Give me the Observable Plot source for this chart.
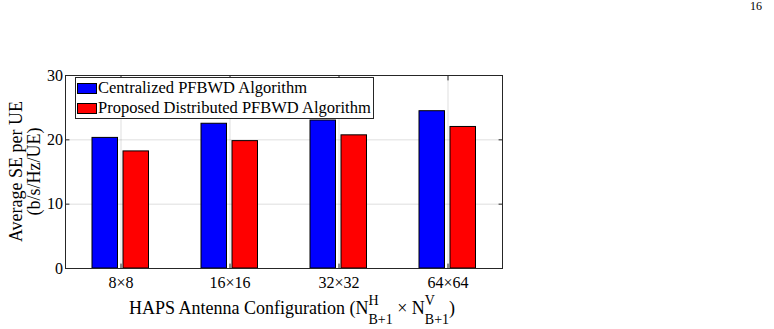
<!DOCTYPE html>
<html>
<head>
<meta charset="utf-8">
<script src="https://cdn.jsdelivr.net/npm/d3@7"></script>
<script src="https://cdn.jsdelivr.net/npm/@observablehq/plot@0.6"></script>
<style>
  body { margin: 0; background: #fff; }
  #chart { position: relative; width: 774px; height: 329px; font-family: "Liberation Serif", "Times New Roman", serif; color: #000; }
  .legend { position: absolute; left: 75px; top: 77px; width: 297px; height: 40px; border: 1px solid #262626; background: #fff; font-family: "Liberation Serif", serif; }
  .legend .row { display: flex; align-items: center; height: 20px; font-size: 16.5px; white-space: nowrap; }
  .legend .sw { width: 18px; height: 9px; border: 1px solid #000; margin: 0 1px 0 1px; }
</style>
</head>
<body>
<div id="chart"></div>
<script>
// Antenna configurations on the x axis
const configs = ["8×8", "16×16", "32×32", "64×64"];
// Average spectral efficiency per UE (b/s/Hz/UE)
const centralized = [20.3, 22.5, 23.0, 24.45];
const distributed = [18.2, 19.8, 20.7, 22.0];
const seriesNames = ["Centralized PFBWD Algorithm", "Proposed Distributed PFBWD Algorithm"];
const seriesColors = ["#0000ff", "#ff0000"];
const yTicks = [0, 10, 20, 30];

const rowsC = configs.map((c, i) => ({config: c, value: centralized[i]}));
const rowsD = configs.map((c, i) => ({config: c, value: distributed[i]}));

const axisColor = "#262626";
const serif = "Liberation Serif, Times New Roman, serif";
const tickLen = -4.4; // MATLAB-style inward ticks

const chart = Plot.plot({
  width: 774,
  height: 329,
  marginLeft: 65,
  marginRight: 272,
  marginTop: 75,
  marginBottom: 61,
  style: {fontFamily: serif, fontSize: "16px", color: axisColor, background: "white", overflow: "visible"},
  x: {domain: configs, padding: 0, label: null},
  y: {domain: [0, 30], label: null},
  marks: [
    Plot.gridX({stroke: axisColor, strokeOpacity: 0.15}),
    Plot.gridY(yTicks, {stroke: axisColor, strokeOpacity: 0.15}),
    Plot.barY(rowsC, {x: "config", y: "value", fill: seriesColors[0], stroke: "#000", strokeWidth: 1, insetLeft: 26, insetRight: 57.5}),
    Plot.barY(rowsD, {x: "config", y: "value", fill: seriesColors[1], stroke: "#000", strokeWidth: 1, insetLeft: 57, insetRight: 26.5}),
    Plot.frame({stroke: axisColor}),
    Plot.axisY(yTicks, {anchor: "left", tickSize: tickLen, tickPadding: 7, label: null, fill: "#000", fontFamily: serif, fontSize: 16}),
    Plot.axisY(yTicks, {anchor: "right", tickSize: tickLen, tickFormat: () => "", label: null}),
    Plot.axisX({anchor: "bottom", tickSize: tickLen, tickPadding: 13, label: null, fill: "#000", fontFamily: serif, fontSize: 16}),
    Plot.axisX({anchor: "top", tickSize: tickLen, tickFormat: () => "", label: null})
  ]
});

const root = document.getElementById("chart");
root.appendChild(chart);

const svg = d3.select(chart);

// Page number
svg.append("text")
  .attr("x", 762).attr("y", 10)
  .attr("text-anchor", "end")
  .attr("font-family", serif).attr("font-size", 12).attr("fill", "#000")
  .text("16");

// Y axis title, two lines
const yc = (75 + 268) / 2;
[["Average SE per UE", 22], ["(b/s/Hz/UE)", 40]].forEach(([t, x]) => {
  svg.append("text")
    .attr("transform", `translate(${x},${yc}) rotate(-90)`)
    .attr("text-anchor", "middle")
    .attr("font-family", serif).attr("font-size", 18).attr("fill", "#000")
    .text(t);
});

// X axis title with stacked super/subscripts
const xt = svg.append("text")
  .attr("x", 292).attr("y", 314)
  .attr("text-anchor", "middle")
  .attr("font-family", serif).attr("font-size", 18).attr("fill", "#000");
const scriptSize = 14;
const letterW = 0.722 * scriptSize;
function stacked(sup, sub) {
  xt.append("tspan").attr("font-size", scriptSize).attr("dy", -9).text(sup);
  xt.append("tspan").attr("font-size", scriptSize).attr("dx", -letterW).attr("dy", 19).text(sub);
}
xt.append("tspan").text("HAPS Antenna Configuration (N");
stacked("H", "B+1");
xt.append("tspan").attr("dy", -10).text(" × N");
stacked("V", "B+1");
xt.append("tspan").attr("dy", -10).text(")");

// Legend
const legend = document.createElement("div");
legend.className = "legend";
seriesNames.forEach((name, i) => {
  const row = document.createElement("div");
  row.className = "row";
  const sw = document.createElement("span");
  sw.className = "sw";
  sw.style.background = seriesColors[i];
  const label = document.createElement("span");
  label.textContent = name;
  row.appendChild(sw);
  row.appendChild(label);
  legend.appendChild(row);
});
root.appendChild(legend);
</script>
</body>
</html>
